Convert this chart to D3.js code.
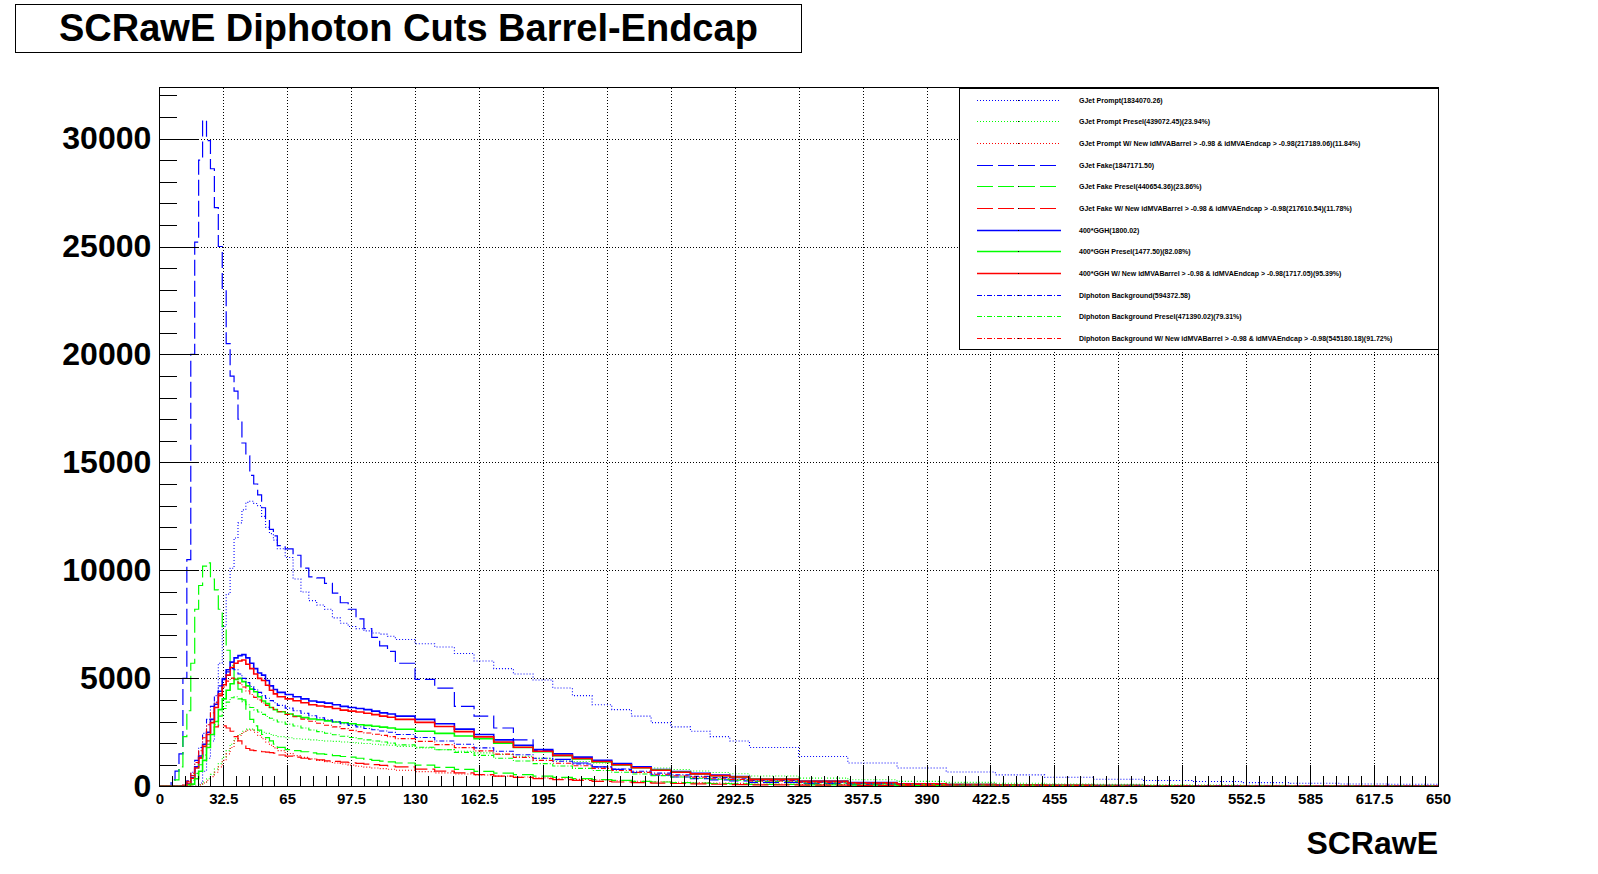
<!DOCTYPE html>
<html>
<head>
<meta charset="utf-8">
<script src="https://d3js.org/d3.v7.min.js"></script>
<style>
  body { margin: 0; background: #fff; }
  svg text { font-family: "Liberation Sans", Arial, Helvetica, sans-serif; font-weight: bold; }
</style>
</head>
<body>
<svg id="chart" width="1598" height="874"></svg>
<script>
// bin edges of the SCRawE histograms (coarser in the tail)
const binEdges = [0,2,4,6,8,10,12,14,16,18,20,22,24,26,28,30,32,34,36,38,40,42,44,46,48,50,52,54,56,58,60,
  64,68,72,76,80,84,88,92,96,100,104,108,112,116,120,
  130,140,150,160,170,180,190,200,210,220,230,240,250,260,270,280,290,300,
  325,350,375,400,425,450,475,500,525,550,575,600,625,650]

const gjetPrompt = [0,0,0,0,0,0,0,0,0,0, 150,700,1300,2100,3900,5700,7400,8900,10100,11500, 12200,12800,13150,13200,13100,13000,12500,12000,11700,11400,
  11000,10600,9600,9000,8600,8400,8200,7800,7550,7400,7300,7200,7100,7050,6950,
  6800,6600,6450,6150,5800,5450,5200,4920,4550,4200,3780,3550,3250,2950,2750,2550,2300,2100,
  1800,1380,1080,850,660,530,420,330,270,220,170,140,110,95]
const gjetPromptPresel = [0,0,0,0,0,0,0,0,0,0, 80,200,350,550,800,1050,1350,1650,1950,2200, 2400,2550,2650,2650,2600,2550,2500,2450,2400,2350,
  2300,2250,2200,2180,2150,2120,2100,2080,2050,2030,2000,1980,1950,1920,1900,
  1850,1780,1700,1620,1550,1470,1390,1300,1220,1150,1080,1000,920,850,780,710,640,580,
  480,380,300,230,180,140,110,90,70,55,45,38,32,28]
const gjetPromptNew = [0,0,0,0,0,0,0,0,0,0, 60,150,280,450,650,900,1200,1500,1800,2100, 2350,2500,2600,2600,2500,2350,2200,2050,1900,1780,
  1650,1520,1420,1340,1270,1200,1140,1080,1030,980,930,890,850,820,790,
  740,680,620,570,520,470,430,390,350,320,290,260,235,210,190,170,150,135,
  110,85,65,50,40,32,25,20,16,13,10,8,7,6]
const gjetFake = [0,0,0,300,700,1500,5000,10500,20000,25200, 29000,30850,29900,28600,26800,25000,23000,20500,19000,18300, 17000,15900,15300,14400,14000,13500,12900,12400,11900,11600,
  11150,11000,10700,10100,9700,9650,9400,8950,8500,8200,7750,7300,6900,6500,6250,
  5700,4950,4550,3700,3250,2700,2150,1650,1250,1080,900,780,640,520,430,360,300,250,
  180,120,80,55,40,30,22,16,12,10,8,6,5,4]
const gjetFakePresel = [0,0,0,0,300,900,2300,3500,5700,8200, 9300,10200,10350,9600,9100,8200,7400,6300,5600,5000, 4500,4000,3500,3100,2800,2600,2400,2250,2100,1950,
  1800,1700,1650,1600,1550,1500,1480,1420,1380,1350,1300,1250,1200,1170,1130,
  1080,980,880,780,690,610,540,470,410,360,310,270,230,200,170,150,130,110,
  90,65,50,38,30,24,18,14,11,9,7,6,5,4]
const gjetFakeNew = [0,0,0,0,0,0,50,200,500,900, 1300,1700,2100,2400,2750,2830,2800,2700,2550,2300, 2100,1900,1750,1680,1650,1620,1600,1580,1560,1540,
  1450,1400,1350,1300,1260,1220,1180,1150,1120,1090,1060,1030,1000,970,940,
  900,800,700,620,540,470,410,360,310,270,230,200,170,150,130,110,95,80,
  65,50,38,30,24,19,15,12,10,8,6,5,4,3]
const ggh = [0,0,0,0,0,0,0,100,400,900, 1400,1950,2500,3100,3800,4400,4950,5400,5750,5950, 6050,6100,5950,5700,5450,5250,5150,4900,4650,4480,
  4350,4250,4150,4050,3950,3900,3850,3780,3700,3650,3600,3550,3480,3400,3350,
  3250,3100,2900,2650,2400,2150,1900,1700,1500,1350,1200,1050,900,780,680,600,520,450,
  340,240,170,120,85,60,45,35,26,20,15,12,10,8]
const gghPresel = [0,0,0,0,0,0,0,0,100,350, 700,1200,1800,2400,3000,3550,4050,4450,4750,4950, 5000,4850,4650,4500,4380,4150,3950,3830,3650,3550,
  3450,3350,3250,3180,3120,3080,3030,2980,2940,2900,2850,2820,2780,2740,2700,
  2640,2550,2450,2330,2200,2000,1800,1600,1420,1270,1130,990,860,750,650,570,490,430,
  320,225,160,115,80,58,42,32,24,18,14,11,9,7]
const gghNew = [0,0,0,0,0,0,0,90,370,850, 1330,1850,2400,2950,3650,4200,4700,5150,5500,5700, 5800,5850,5650,5450,5200,5000,4900,4680,4450,4280,
  4150,4050,3960,3870,3780,3720,3680,3600,3530,3480,3440,3380,3320,3250,3200,
  3100,2960,2770,2530,2290,2050,1810,1620,1430,1290,1150,1000,860,745,650,575,495,430,
  325,230,160,115,80,57,43,33,25,19,14,11,9,7]
const diphoton = [0,0,0,0,0,0,50,250,650,1200, 1800,2450,3100,3700,4200,4650,5000,5300,5450,5400, 5200,5000,4800,4620,4480,4350,4200,4080,3970,3870,
  3750,3620,3500,3380,3270,3170,3080,2990,2900,2820,2750,2680,2620,2560,2500,
  2400,2260,2100,1950,1780,1620,1460,1300,1160,1030,900,800,700,610,530,460,400,350,
  270,190,135,95,70,52,40,30,23,18,14,11,9,7]
const diphotonPresel = [0,0,0,0,0,0,0,80,280,600, 1000,1450,1950,2400,2850,3250,3600,3900,4100,4150, 4050,3920,3780,3650,3540,3440,3330,3230,3150,3070,
  2980,2880,2790,2700,2610,2530,2460,2390,2320,2260,2200,2150,2100,2050,2000,
  1920,1810,1690,1570,1430,1300,1170,1050,940,830,730,650,570,495,430,375,325,285,
  220,155,110,78,57,42,32,24,18,14,11,9,7,6]
const diphotonNew = [0,0,0,0,0,0,45,230,600,1100, 1650,2250,2850,3400,3870,4280,4600,4870,5010,4970, 4780,4600,4420,4250,4120,4000,3860,3750,3650,3560,
  3450,3330,3220,3110,3010,2920,2830,2750,2670,2590,2530,2470,2410,2360,2300,
  2210,2080,1930,1790,1640,1490,1340,1200,1070,950,830,735,645,560,490,425,370,320,
  250,175,125,88,64,48,37,28,21,17,13,10,8,6]

const legendLabels = [
  "GJet Prompt(1834070.26)",
  "GJet Prompt Presel(439072.45)(23.94%)",
  "GJet Prompt W/ New idMVABarrel > -0.98 & idMVAEndcap > -0.98(217189.06)(11.84%)",
  "GJet Fake(1847171.50)",
  "GJet Fake Presel(440654.36)(23.86%)",
  "GJet Fake W/ New idMVABarrel > -0.98 & idMVAEndcap > -0.98(217610.54)(11.78%)",
  "400*GGH(1800.02)",
  "400*GGH Presel(1477.50)(82.08%)",
  "400*GGH W/ New idMVABarrel > -0.98 & idMVAEndcap > -0.98(1717.05)(95.39%)",
  "Diphoton Background(594372.58)",
  "Diphoton Background Presel(471390.02)(79.31%)",
  "Diphoton Background W/ New idMVABarrel > -0.98 & idMVAEndcap > -0.98(545180.18)(91.72%)"
]
const allSeries = [gjetPrompt, gjetPromptPresel, gjetPromptNew, gjetFake, gjetFakePresel, gjetFakeNew,
  ggh, gghPresel, gghNew, diphoton, diphotonPresel, diphotonNew]

const xTicks = d3.range(0, 21).map(i => i * 32.5)
const yTicks = [0, 5000, 10000, 15000, 20000, 25000, 30000]

// ROOT-ish line styles: dotted, dashed, solid, dash-dot
const colors = ["#0000ff", "#00ff00", "#ff0000"]
const dashes = ["1,2", "16,5", null, "5,2,1,2"]
const widths = [1.1, 1.2, 1.6, 1.1]

window.onload = () => {
  main()
}

const main = () => {
  const svg = d3.select("#chart")
  const fr = {left: 159.3, right: 1438, top: 87.8, bottom: 786.3}
  const x = d3.scaleLinear().domain([0, 650]).range([fr.left, fr.right])
  const y = d3.scaleLinear().domain([0, 32350]).range([fr.bottom, fr.top])

  svg.append("rect").attr("width", 1598).attr("height", 874).attr("fill", "#fff")

  // grid
  const grid = svg.append("g").attr("stroke", "#000").attr("stroke-dasharray", "1,2")
    .attr("shape-rendering", "crispEdges")
  grid.selectAll(".gx").data(xTicks.slice(1, -1)).join("line")
    .attr("x1", d => Math.round(x(d)) + 0.5).attr("x2", d => Math.round(x(d)) + 0.5)
    .attr("y1", fr.top).attr("y2", fr.bottom)
  grid.selectAll(".gy").data(yTicks.slice(1)).join("line")
    .attr("x1", fr.left).attr("x2", fr.right)
    .attr("y1", d => Math.round(y(d)) + 0.5).attr("y2", d => Math.round(y(d)) + 0.5)

  // histograms
  svg.append("clipPath").attr("id", "clip").append("rect")
    .attr("x", fr.left).attr("y", fr.top).attr("width", fr.right - fr.left).attr("height", fr.bottom - fr.top)
  const line = d3.line().x(d => x(d[0])).y(d => y(d[1])).curve(d3.curveStepAfter)
  const hists = svg.append("g").attr("clip-path", "url(#clip)").attr("fill", "none")
  allSeries.forEach((vals, i) => {
    const pts = binEdges.map((e, j) => [e, vals[Math.min(j, vals.length - 1)]])
    const st = Math.floor(i / 3)
    hists.append("path").datum(pts)
      .attr("d", line)
      .attr("stroke", colors[i % 3])
      .attr("stroke-width", widths[st])
      .attr("stroke-dasharray", dashes[st])
  })

  // axes: minor and major ticks in separate groups so one call does not wipe the other
  const xAxis = d3.axisBottom(x).tickValues(xTicks).tickSize(-21).tickPadding(7)
    .tickFormat(d => String(d))
  const xMinor = d3.axisBottom(x).tickValues(d3.range(0, 101).map(i => i * 6.5)).tickSize(-10.5).tickFormat("")
  const yAxis = d3.axisLeft(y).tickValues(yTicks).tickSize(-39).tickPadding(8).tickFormat(d3.format("d"))
  const yMinor = d3.axisLeft(y).tickValues(d3.range(0, 33).map(i => i * 1000)).tickSize(-18).tickFormat("")

  const xT = `translate(0,${fr.bottom})`
  const yT = `translate(${fr.left},0)`
  svg.append("g").attr("transform", xT).attr("shape-rendering", "crispEdges").call(xMinor)
  const gx = svg.append("g").attr("transform", xT).attr("shape-rendering", "crispEdges").call(xAxis)
  gx.selectAll("text").attr("font-size", 15).attr("fill", "#000")
  svg.append("g").attr("transform", yT).attr("shape-rendering", "crispEdges").call(yMinor)
  const gy = svg.append("g").attr("transform", yT).attr("shape-rendering", "crispEdges").call(yAxis)
  gy.selectAll("text").attr("font-size", 32).attr("fill", "#000")
  svg.selectAll(".domain").remove()
  svg.selectAll(".tick line").attr("stroke", "#000")

  svg.append("rect").attr("x", fr.left).attr("y", fr.top)
    .attr("width", fr.right - fr.left).attr("height", fr.bottom - fr.top)
    .attr("fill", "none").attr("stroke", "#000").attr("shape-rendering", "crispEdges")

  svg.append("text").attr("x", fr.right).attr("y", 854).attr("text-anchor", "end")
    .attr("font-size", 32).text("SCRawE")

  // title box
  svg.append("rect").attr("x", 15.5).attr("y", 4.5).attr("width", 786).attr("height", 47.5)
    .attr("fill", "#fff").attr("stroke", "#000").attr("shape-rendering", "crispEdges")
  svg.append("text").attr("x", 59).attr("y", 41).attr("font-size", 38)
    .text("SCRawE Diphoton Cuts Barrel-Endcap")

  // legend
  const lg = {left: 959, top: 88.8, bottom: 349}
  svg.append("rect").attr("x", lg.left).attr("y", lg.top)
    .attr("width", fr.right - lg.left).attr("height", lg.bottom - lg.top)
    .attr("fill", "#fff").attr("stroke", "#000").attr("shape-rendering", "crispEdges")
  const rowH = (lg.bottom - lg.top) / legendLabels.length
  const rows = svg.append("g").selectAll("g").data(legendLabels).join("g")
    .attr("transform", (d, i) => `translate(0,${Math.round(lg.top + rowH * (i + 0.5)) + 0.5})`)
  rows.append("line").attr("x1", 977).attr("x2", 1061)
    .attr("stroke", (d, i) => colors[i % 3])
    .attr("stroke-width", (d, i) => widths[Math.floor(i / 3)])
    .attr("stroke-dasharray", (d, i) => dashes[Math.floor(i / 3)])
  rows.append("rect").attr("x", 1018).attr("y", -0.5).attr("width", 1).attr("height", 1).attr("fill", "#000")
  rows.append("text").attr("x", 1079).attr("y", 2.5).attr("font-size", 7).text(d => d)
}
</script>
</body>
</html>
